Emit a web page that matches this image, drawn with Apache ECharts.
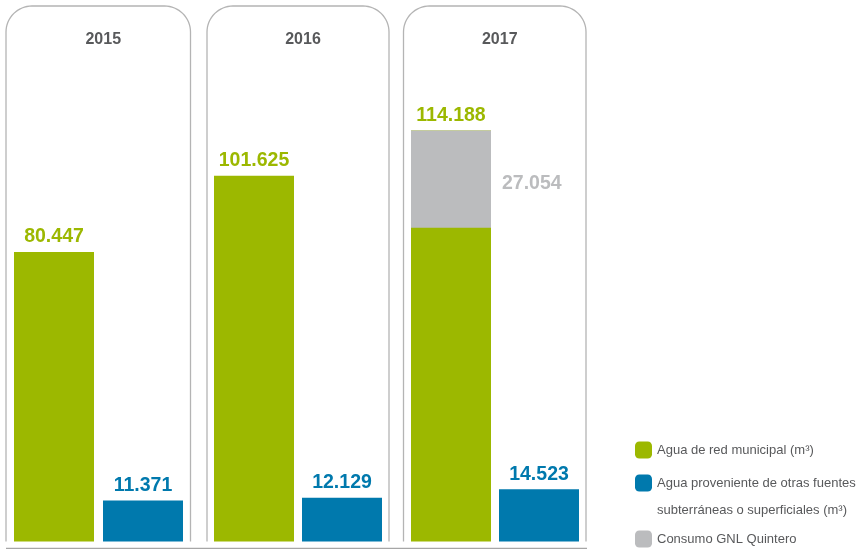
<!DOCTYPE html>
<html>
<head>
<meta charset="utf-8">
<script src="https://cdn.jsdelivr.net/npm/echarts@6/dist/echarts.min.js"></script>
<style>
  html, body { margin: 0; padding: 0; background: #fff; }
  #chart { width: 858px; height: 549px; }
</style>
</head>
<body>
<div id="chart"></div>
<script>
// Water consumption by source, one panel per year
const years = ['2015', '2016', '2017'];
const municipal = [80.447, 101.625, 114.188];      // Agua de red municipal (m³), total bar
const otherSources = [11.371, 12.129, 14.523];     // Agua de otras fuentes (m³)
const gnlQuintero = [null, null, 27.054];          // portion of the municipal bar used by GNL Quintero
const legendNames = [
  'Agua de red municipal (m³)',
  'Agua proveniente de otras fuentes subterráneas o superficiales (m³)',
  'Consumo GNL Quintero'
];

const GREEN = '#9cb800';
const BLUE = '#0079ad';
const GRAY = '#bbbcbe';
const TEXT = '#58595b';
const FONT = "'Liberation Sans', Arial, sans-serif";

// panel geometry (pixels)
const panels = [
  { left: 6, right: 190.5, gridLeft: 9.5, gridWidth: 178 },
  { left: 207, right: 389, gridLeft: 210, gridWidth: 176 },
  { left: 403.5, right: 586, gridLeft: 407, gridWidth: 176 }
];
const PANEL_TOP = 6, PANEL_BOTTOM = 541.5, RADIUS = 26;

function panelOutline(p) {
  const pts = [[p.left, PANEL_BOTTOM], [p.left, PANEL_TOP + RADIUS]];
  const n = 16;
  for (let k = 0; k <= n; k++) {
    const a = Math.PI + (Math.PI / 2) * k / n;
    pts.push([p.left + RADIUS + RADIUS * Math.cos(a), PANEL_TOP + RADIUS + RADIUS * Math.sin(a)]);
  }
  for (let k = 0; k <= n; k++) {
    const a = 1.5 * Math.PI + (Math.PI / 2) * k / n;
    pts.push([p.right - RADIUS + RADIUS * Math.cos(a), PANEL_TOP + RADIUS + RADIUS * Math.sin(a)]);
  }
  pts.push([p.right, PANEL_BOTTOM]);
  return pts;
}

const fmt = v => Number(v.value).toFixed(3);
const valueLabel = color => ({
  show: true, position: 'top', distance: 5, formatter: fmt,
  color: color, fontFamily: FONT, fontWeight: 'bold', fontSize: 19.5
});

const grids = [], xAxes = [], yAxes = [], series = [], titles = [], graphics = [];

years.forEach((year, i) => {
  const p = panels[i];
  grids.push({ left: p.gridLeft, width: p.gridWidth, top: 37.5, bottom: 7.5 });
  xAxes.push({ gridIndex: i, type: 'category', data: ['municipal', 'otras'], show: false });
  yAxes.push({ gridIndex: i, type: 'value', min: 0, max: 140, show: false });
  titles.push({
    text: year, left: (p.left + p.right) / 2, top: 26.5, textAlign: 'center',
    textStyle: { fontFamily: FONT, fontWeight: 'bold', fontSize: 16, color: TEXT }
  });
  graphics.push({
    type: 'polyline', silent: true, z: -1,
    shape: { points: panelOutline(p) },
    style: { stroke: '#b4b4b4', lineWidth: 1.3, fill: null }
  });

  series.push({
    name: legendNames[0], type: 'bar', xAxisIndex: i, yAxisIndex: i,
    barWidth: 80, barGap: '-100%', itemStyle: { color: GREEN },
    data: [municipal[i], '-'], label: valueLabel(GREEN)
  });
  series.push({
    name: legendNames[1], type: 'bar', xAxisIndex: i, yAxisIndex: i,
    barWidth: 80, barGap: '-100%', itemStyle: { color: BLUE },
    data: ['-', otherSources[i]], label: valueLabel(BLUE)
  });
  if (gnlQuintero[i] != null) {
    // invisible base so the GNL share sits at the top of the municipal bar
    series.push({
      type: 'bar', xAxisIndex: i, yAxisIndex: i, stack: 'gnl', silent: true,
      barWidth: 80, barGap: '-100%', itemStyle: { color: 'rgba(0,0,0,0)' },
      data: [municipal[i] - gnlQuintero[i], '-']
    });
    series.push({
      name: legendNames[2], type: 'bar', xAxisIndex: i, yAxisIndex: i, stack: 'gnl',
      barWidth: 80, barGap: '-100%', itemStyle: { color: GRAY },
      data: [gnlQuintero[i], '-'],
      label: {
        show: true, position: 'right', distance: 11, offset: [0, 5], formatter: fmt,
        color: GRAY, fontFamily: FONT, fontWeight: 'bold', fontSize: 19.5
      }
    });
  } else {
    series.push({
      name: legendNames[2], type: 'bar', xAxisIndex: i, yAxisIndex: i, stack: 'gnl',
      barWidth: 80, barGap: '-100%', itemStyle: { color: GRAY }, data: ['-', '-']
    });
  }
});

// baseline under the panels
graphics.push({
  type: 'line', silent: true,
  shape: { x1: 6, y1: 548.5, x2: 587, y2: 548.5 },
  style: { stroke: '#a6a6a6', lineWidth: 1.5 }
});

const legendText = { fontFamily: FONT, fontSize: 13, color: TEXT };
const legendBase = {
  orient: 'vertical', left: 635, padding: 0, itemWidth: 17, itemHeight: 17,
  icon: 'roundRect', itemGap: 9, selectedMode: false
};

const option = {
  animation: false,
  title: titles,
  grid: grids,
  xAxis: xAxes,
  yAxis: yAxes,
  series: series,
  graphic: graphics,
  legend: [
    Object.assign({}, legendBase, {
      top: 441.5, data: [legendNames[0]],
      itemStyle: { color: GREEN }, textStyle: legendText
    }),
    Object.assign({}, legendBase, {
      // blank first line keeps the icon level with the first text line
      top: 442.5, data: [legendNames[1]],
      itemStyle: { color: BLUE },
      formatter: () => '\nAgua proveniente de otras fuentes\nsubterráneas o superficiales (m³)',
      textStyle: Object.assign({}, legendText, { lineHeight: 27 })
    }),
    Object.assign({}, legendBase, {
      top: 530.5, data: [legendNames[2]],
      itemStyle: { color: GRAY }, textStyle: legendText
    })
  ]
};

const chart = echarts.init(document.getElementById('chart'));
chart.setOption(option);
</script>
</body>
</html>
